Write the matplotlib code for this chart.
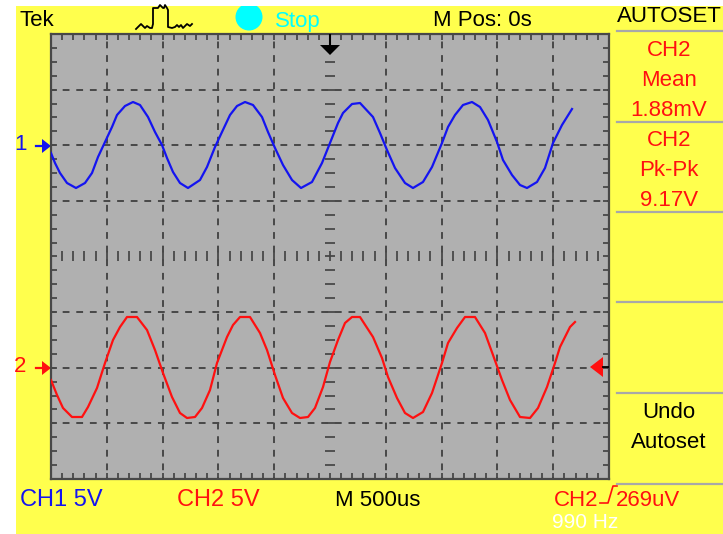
import matplotlib
matplotlib.use('Agg')
import numpy as np
import matplotlib.pyplot as plt
from matplotlib.patches import Rectangle, Circle, Polygon

plt.rcParams['font.family'] = ['Liberation Sans', 'DejaVu Sans']

# traces as scope samples (x) and levels (y)
ch1_t = [0,4,9,16,25,34,41,47,54,61,66,74,82,89,97,104,111,116,122,129,137,149,156,164,171,179,186,194,202,211,217,224,232,241,250,261,271,279,287,292,301,309,322,329,336,344,354,362,372,381,391,397,404,412,421,429,437,446,452,461,469,476,486,494,502,511,521]
ch1_v = [326,316,306,296,291,296,306,322,337,352,364,373,377,374,362,347,334,321,307,296,291,299,312,332,347,364,373,377,374,362,347,331,314,299,291,297,316,336,356,366,375,376,362,346,329,311,296,291,297,312,336,352,364,374,377,372,359,337,319,304,294,291,297,311,336,354,370]
ch2_t = [0,6,12,21,31,37,46,54,62,69,76,86,96,104,112,121,129,136,144,151,159,166,176,182,189,199,209,216,224,232,241,249,257,264,272,279,287,294,301,309,322,331,337,346,354,362,372,381,391,397,406,414,424,434,442,451,459,469,479,487,496,504,509,519,524]
ch2_v = [99,84,71,62,62,72,91,116,139,152,162,162,149,129,106,82,66,61,62,71,89,116,142,154,162,162,146,129,104,81,66,61,62,71,92,117,139,156,162,162,142,121,102,81,66,61,67,86,116,136,151,162,162,146,124,99,79,62,61,71,92,116,132,152,157]

W, H = 723, 534
YELLOW = '#FFFF4D'
GREY = '#B0B0B0'
DARK = '#484848'
BLUE = '#1414F0'
RED = '#FF1010'
SIZE = 16

fig = plt.figure(figsize=(W / 100, H / 100), dpi=100, facecolor='white')

# overlay in pixel coords for the frame around the screen
bg = fig.add_axes([0, 0, 1, 1])
bg.set_xlim(0, W)
bg.set_ylim(H, 0)
bg.axis('off')
bg.add_patch(Rectangle((16, 6), W - 16, H - 6, fc=YELLOW, ec='none'))
bg.add_patch(Circle((249, 17), 13.5, fc='#00FFFF', ec='none'))
bg.add_patch(Rectangle((0, 0), W, 6, fc='white', ec='none', zorder=2))

# little waveform icon
icon_x = [136,139,141,143,145,147,150,152,153,153,158,160,163,164,165,167,168,168,172,175,177,179,181,183,185,187,190,192]
icon_y = [29,26,24,26,28,26,28,28,24,8,8,5,8,8,5,8,10,27,28,27,25,27,25,28,26,24,26,24]
bg.plot(icon_x, icon_y, color='black', lw=1.3)

def label(x, y, s, color='black', size=SIZE, ha='center', **kw):
    bg.text(x, y + 2, s, color=color, fontsize=size, ha=ha, va='center', **kw)

label(37, 19, 'Tek')
label(298, 19, 'Stop', color='#00FFFF')
label(482, 19, 'M Pos: 0s')
label(669, 15, 'AUTOSET')
label(669, 49, 'CH2', color=RED)
label(669, 79, 'Mean', color=RED)
label(669, 108, '1.88mV', color=RED)
label(669, 139, 'CH2', color=RED)
label(669, 169, 'Pk-Pk', color=RED)
label(669, 198, '9.17V', color=RED)
label(669, 411, 'Undo')
label(669, 441, 'Autoset')
label(21, 143, '1', color=BLUE)
label(20, 364, '2', color=RED)
label(61, 498, 'CH1 5V', color=BLUE, size=17)
label(218, 498, 'CH2 5V', color=RED, size=17)
label(378, 498, 'M 500us')
label(576, 498, 'CH2', color=RED)
label(648, 498, '269uV', color=RED)
label(585, 520, '990 Hz', color='white', size=15)
bg.plot([600, 608, 613, 617], [503, 503, 486, 486], color=RED, lw=1.2)

for y in [31, 122, 212, 302, 393, 484]:
    bg.plot([617, W], [y, y], color='#A8A8A8', lw=1.6)

# channel arrows
for y, c in [(146, BLUE), (368, RED)]:
    bg.plot([36, 46], [y, y], color=c, lw=1.6)
    bg.add_patch(Polygon([[42, y - 7], [51, y], [42, y + 7]], fc=c, ec='none'))

# the scope screen
ax = fig.add_axes([51 / W, 1 - 479 / H, 558 / W, 445 / H], zorder=3)
ax.set_xlim(0, 558)
ax.set_ylim(0, 445)
ax.set_facecolor(GREY)
ax.set_xticks([])
ax.set_yticks([])
for s in ax.spines.values():
    s.set_color(DARK)
    s.set_linewidth(1.6)

dx = 558 / 10
dy = 445 / 8
for i in range(1, 10):
    if i != 5:
        ax.axvline(i * dx, color=DARK, lw=1.4, ls=(2.5, (3.5, 3.5)), zorder=1)
for j in range(1, 8):
    if j != 4:
        ax.axhline(j * dy, color=DARK, lw=1.4, ls=(1, (3.5, 3.5)), zorder=1)

tx = np.arange(0, 558, dx / 5)
ty = np.arange(0, 445, dy / 4)
ax.vlines(tx, 0, 6, color=DARK, lw=1.3, zorder=1)
ax.vlines(tx, 445 - 6, 445, color=DARK, lw=1.3, zorder=1)
ax.hlines(ty, 0, 6, color=DARK, lw=1.3, zorder=1)
ax.hlines(ty, 558 - 6, 558, color=DARK, lw=1.3, zorder=1)
ax.vlines(tx, 222.5 - 5, 222.5 + 5, color=DARK, lw=1.3, zorder=1)
ax.hlines(ty, 279 - 5, 279 + 5, color=DARK, lw=1.3, zorder=1)

# trigger position, trigger level
ax.plot([279, 279], [445, 432], color='black', lw=1.5, zorder=4)
ax.add_patch(Polygon([[269, 434], [289, 434], [279, 424]], fc='black', ec='none', zorder=4))
ax.add_patch(Polygon([[552, 122], [552, 102], [539, 112]], fc=RED, ec='none', zorder=4))
ax.plot([552, 558], [112, 112], color='black', lw=1.3, zorder=4)

ax.plot(ch1_t, ch1_v, color=BLUE, lw=1.6, zorder=3)
ax.plot(ch2_t, ch2_v, color=RED, lw=1.6, zorder=3)

fig.savefig('out.png', dpi=100)
